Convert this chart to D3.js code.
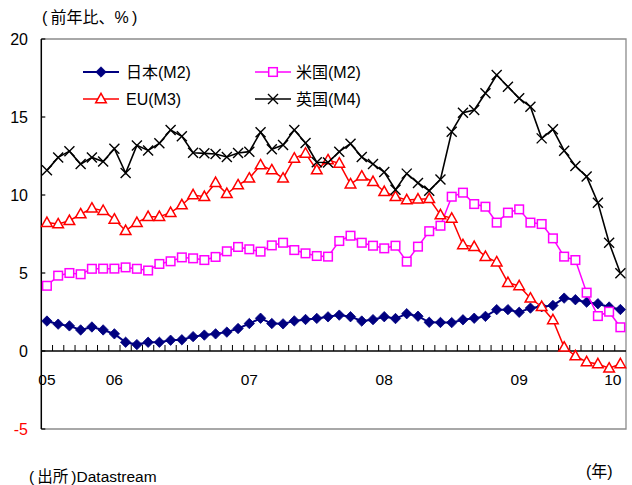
<!DOCTYPE html>
<html><head><meta charset="utf-8">
<script src="https://cdn.jsdelivr.net/npm/d3@7"></script>
<style>
html,body{margin:0;padding:0;background:#fff;}
svg{display:block;}
text{font-family:"Liberation Sans","Noto Sans CJK JP",Arial,sans-serif;}
</style></head>
<body>
<script>
// ---- data ----
const months = d3.range(52).map(i => { const m = 6 + i; return (2005 + Math.floor(m/12)) + "-" + String(m%12+1).padStart(2,"0"); });
const japanM2 = [1.92,1.72,1.61,1.35,1.54,1.35,1.1,0.56,0.41,0.56,0.56,0.69,0.72,0.92,1.02,1.1,1.21,1.44,1.76,2.1,1.76,1.74,1.93,2.02,2.09,2.19,2.3,2.2,1.92,2.01,2.2,2.08,2.39,2.23,1.84,1.83,1.82,2.0,2.1,2.22,2.65,2.65,2.48,2.75,2.84,2.92,3.39,3.29,3.13,3.03,2.82,2.66];
const usM2 = [4.18,4.83,5.0,4.92,5.27,5.28,5.28,5.36,5.27,5.16,5.58,5.75,6.0,5.94,5.83,6.03,6.39,6.67,6.52,6.37,6.77,6.94,6.47,6.26,6.09,6.05,7.05,7.39,6.94,6.75,6.58,6.75,5.73,6.69,7.68,8.03,9.89,10.15,9.42,9.25,8.23,8.87,9.08,8.23,8.14,7.22,6.05,5.83,3.74,2.24,2.52,1.52];
const euM3 = [8.23,8.14,8.35,8.78,9.15,9.0,8.44,7.71,8.23,8.61,8.61,8.87,9.36,10.0,9.89,10.79,10.08,10.64,11.07,11.92,11.6,11.07,12.35,12.67,11.6,12.24,12.03,10.7,11.2,10.85,10.21,9.89,9.68,9.73,9.76,8.72,8.5,6.8,6.69,6.05,5.7,4.38,4.17,3.38,2.84,1.99,0.24,-0.32,-0.7,-0.83,-1.11,-0.83];
const ukM4 = [11.58,12.41,12.81,11.98,12.41,12.14,12.97,11.41,13.18,12.86,13.31,14.17,13.76,12.71,12.67,12.63,12.44,12.69,12.78,14.03,12.93,13.2,14.17,13.33,12.1,12.08,12.78,13.29,12.43,11.98,11.47,10.34,11.37,10.77,10.28,11.0,14.06,15.28,15.45,16.52,17.69,16.94,16.2,15.66,13.63,14.21,12.84,11.86,11.18,9.51,6.94,4.98];
const seriesNames = ["日本(M2)","米国(M2)","EU(M3)","英国(M4)"];
const yTicks = [20,15,10,5,0,-5];
const xTickIdx = [0,6,18,30,42,51];
const xTickLabels = ["05","06","07","08","09","10"];

// ---- chart ----
const W=632,H=485;
const L=41.3,R=626,T=39,B=429;
const svg = d3.select("body").append("svg").attr("width",W).attr("height",H);
const x = d3.scaleBand().domain(d3.range(months.length)).range([L,R]).padding(0);
const cx = i => x(i) + x.bandwidth()/2;
const y = d3.scaleLinear().domain([-5,20]).range([B,T]);

// frame
svg.append("path").attr("d",`M${L},${T}H${R}V${B}H${L}`).attr("fill","none").attr("stroke","#8c8c8c").attr("stroke-width",1.3);
svg.append("line").attr("x1",L).attr("x2",L).attr("y1",T).attr("y2",B).attr("stroke","#000").attr("stroke-width",1.5);

// y ticks & labels
svg.selectAll(".yt").data(yTicks).enter().append("line")
  .attr("x1",L).attr("x2",L+4).attr("y1",d=>y(d)).attr("y2",d=>y(d)).attr("stroke","#000").attr("stroke-width",1.2);
svg.selectAll(".yl").data(yTicks).enter().append("text")
  .attr("x",28).attr("y",d=>y(d)+6).attr("text-anchor","end").attr("font-size",16)
  .attr("fill",d=>d<0?"#ff0000":"#000").text(d=>d);

// zero line with minor ticks
svg.append("line").attr("x1",L).attr("x2",R).attr("y1",y(0)).attr("y2",y(0)).attr("stroke","#000").attr("stroke-width",1.5);
svg.selectAll(".mt").data(d3.range(1,months.length)).enter().append("line")
  .attr("x1",d=>x(d)).attr("x2",d=>x(d)).attr("y1",y(0)).attr("y2",y(0)-6).attr("stroke","#000").attr("stroke-width",1);

// x labels
svg.selectAll(".xl").data(xTickIdx).enter().append("text")
  .attr("x",(d,i)=> i===xTickIdx.length-1 ? cx(d)+1 : cx(d))
  .attr("y",385).attr("font-size",15.5)
  .attr("text-anchor",(d,i)=> i===xTickIdx.length-1 ? "end" : "middle")
  .text((d,i)=>xTickLabels[i]);

// markers
const mk = {
  diamond: g => g.append("path").attr("d","M0,-5.2L5.2,0L0,5.2L-5.2,0Z").attr("fill","#000080").attr("stroke","#000080").attr("stroke-width",0.8),
  square: g => g.append("rect").attr("x",-4.3).attr("y",-4.3).attr("width",8.6).attr("height",8.6).attr("fill","#fff").attr("stroke","#ff00ff").attr("stroke-width",1.5),
  tri: g => g.append("path").attr("d","M0,-5.6L5.3,3.8L-5.3,3.8Z").attr("fill","#fff").attr("stroke","#ff0000").attr("stroke-width",1.5),
  cross: g => g.append("path").attr("d","M-5,-5L5,5M-5,5L5,-5").attr("fill","none").attr("stroke","#000").attr("stroke-width",1.4)
};
const series = [
  {v:japanM2,color:"#000080",w:2,m:"diamond"},
  {v:usM2,color:"#ff00ff",w:1.5,m:"square"},
  {v:euM3,color:"#ff0000",w:1.5,m:"tri"},
  {v:ukM4,color:"#000",w:1.6,m:"cross"}
];
const line = d3.line().x((d,i)=>cx(i)).y(d=>y(d));
series.forEach(s=>{
  svg.append("path").datum(s.v).attr("d",line).attr("fill","none").attr("stroke",s.color).attr("stroke-width",s.w);
  svg.append("g").selectAll("g").data(s.v).enter().append("g")
    .attr("transform",(d,i)=>`translate(${cx(i)},${y(d)})`).each(function(){ mk[s.m](d3.select(this)); });
});

// legend
const leg = [
  {x:83,y:72,si:0},{x:255,y:72,si:1},{x:83,y:99,si:2},{x:255,y:99,si:3}
];
leg.forEach(l=>{
  const s = series[l.si];
  svg.append("line").attr("x1",l.x).attr("x2",l.x+36).attr("y1",l.y).attr("y2",l.y).attr("stroke",s.color).attr("stroke-width",s.w);
  const g = svg.append("g").attr("transform",`translate(${l.x+18},${l.y})`);
  mk[s.m](g);
  svg.append("text").attr("x",l.x+(l.si%2?41:43)).attr("y",l.y+6).attr("font-size",16).text(seriesNames[l.si]);
});

// titles
svg.append("text").attr("x",42).attr("y",23).attr("font-size",16).text("(\u2009前年比、%\u2009)");
svg.append("text").attr("x",29).attr("y",482).attr("font-size",15.5).text("(\u2009出所\u2009)Datastream");
svg.append("text").attr("x",586).attr("y",477).attr("font-size",16).text("(年)");
</script>
</body></html>
